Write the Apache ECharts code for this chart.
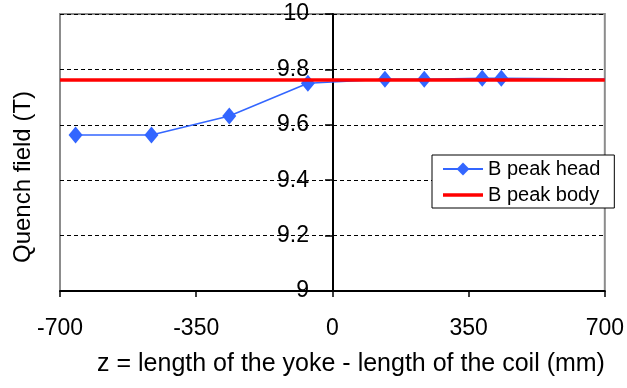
<!DOCTYPE html>
<html>
<head>
<meta charset="utf-8">
<script src="https://cdn.jsdelivr.net/npm/echarts@6/dist/echarts.min.js"></script>
<style>
  html, body { margin: 0; padding: 0; background: #fff; }
  #chart { width: 627px; height: 388px; }
</style>
</head>
<body>
<div id="chart"></div>
<script>
// ---- data ----
const headZ = [-660, -465, -265, -63, 135, 236, 385, 434, 700];
const headB = [9.563, 9.563, 9.632, 9.750, 9.764, 9.764, 9.768, 9.768, 9.765];
const bodyZ = [-700, 700];
const bodyB = [9.762, 9.762];
const xTicks = [-700, -350, 0, 350, 700];
const yTicks = [9, 9.2, 9.4, 9.6, 9.8, 10];
const seriesNames = ['B peak head', 'B peak body'];
const xTitle = 'z = length of the yoke - length of the coil (mm)';
const yTitle = 'Quench field (T)';

const FONT = "'Liberation Sans', Arial, sans-serif";
const headData = headZ.map((z, i) => [z, headB[i]]);
const bodyData = bodyZ.map((z, i) => [z, bodyB[i]]);
const lastHead = headData.length - 1;

const GRID_LEFT = 60, GRID_RIGHT = 21;
const plotW = 627 - GRID_LEFT - GRID_RIGHT;
// y axis crosses the x axis at z = 0
const zeroOffset = -plotW * (0 - xTicks[0]) / (xTicks[xTicks.length - 1] - xTicks[0]);

const chart = echarts.init(document.getElementById('chart'), null, { renderer: 'canvas' });
chart.setOption({
  animation: false,
  backgroundColor: '#ffffff',
  grid: {
    left: GRID_LEFT, right: GRID_RIGHT, top: 14, bottom: 97,
    show: true, borderColor: '#8c8c8c', borderWidth: 2, backgroundColor: 'transparent'
  },
  xAxis: {
    type: 'value',
    min: xTicks[0], max: xTicks[xTicks.length - 1], interval: 350,
    axisLine: { show: true, onZero: false, lineStyle: { color: '#000', width: 2 } },
    axisTick: { show: true, length: 6, lineStyle: { color: '#000', width: 1.5 } },
    splitLine: { show: false },
    axisLabel: { color: '#000', fontSize: 23, fontFamily: FONT, margin: 26 }
  },
  yAxis: {
    type: 'value',
    position: 'left',
    offset: zeroOffset,
    min: yTicks[0], max: yTicks[yTicks.length - 1], interval: 0.2,
    axisLine: { show: true, onZero: false, lineStyle: { color: '#000', width: 2 } },
    axisTick: { show: true, length: 8, lineStyle: { color: '#000', width: 1.5 } },
    splitLine: { show: true, lineStyle: { color: '#000', width: 1, type: [4, 3] } },
    axisLabel: {
      color: '#000', fontSize: 23, fontFamily: FONT, margin: 24,
      formatter: v => String(Math.round(v * 10) / 10)
    }
  },
  legend: {
    orient: 'vertical',
    left: 432, top: 155,
    data: [
      { name: seriesNames[0] },
      { name: seriesNames[1], icon: 'path://M0,0L40,0L40,3.5L0,3.5Z' }
    ],
    backgroundColor: '#fff',
    borderColor: '#000', borderWidth: 1,
    padding: [4, 14, 3, 10],
    itemWidth: 40, itemHeight: 16, itemGap: 6,
    textStyle: { color: '#000', fontSize: 20, fontFamily: FONT }
  },
  graphic: [
    {
      type: 'text', x: 23, y: 177, rotation: Math.PI / 2,
      style: { text: yTitle, fill: '#000', font: '24px ' + FONT, align: 'center', verticalAlign: 'middle' }
    },
    {
      type: 'text', x: 351, y: 364,
      style: { text: xTitle, fill: '#000', font: '25px ' + FONT, align: 'center', verticalAlign: 'middle' }
    }
  ],
  series: [
    {
      name: seriesNames[0], type: 'line', data: headData,
      symbol: 'diamond',
      symbolSize: (v, p) => (p.dataIndex === lastHead ? 0 : [14, 17]),
      lineStyle: { color: '#3366ff', width: 1.5 },
      itemStyle: { color: '#3366ff' },
      clip: false, z: 3
    },
    {
      name: seriesNames[1], type: 'line', data: bodyData,
      symbol: 'none',
      lineStyle: { color: '#ff0000', width: 3.5 },
      itemStyle: { color: '#ff0000' },
      z: 4
    }
  ]
});
</script>
</body>
</html>
